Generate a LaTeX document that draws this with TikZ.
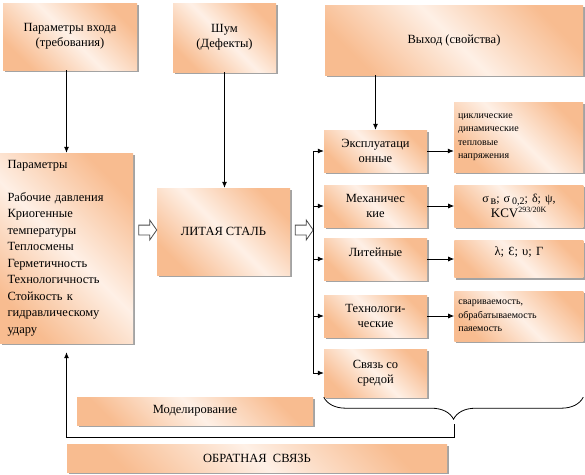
\documentclass[tikz,border=0pt]{standalone}
\usepackage{fontspec}
\setmainfont{Liberation Serif}
\newfontfamily\timesfont{Liberation Serif}
\usetikzlibrary{arrows.meta, positioning, shadows, shapes.arrows, decorations.pathreplacing}
\definecolor{boxorange}{RGB}{248,188,144}
\definecolor{boxlight}{RGB}{254,240,230}

\begin{document}
\begin{tikzpicture}[x=1pt, y=-1pt,
  box/.style={rectangle, top color=boxorange, bottom color=boxorange, middle color=boxlight, shading angle=-45, drop shadow={shadow xshift=2pt, shadow yshift=-2pt, fill=black!45, opacity=0.8}, align=center, font=\timesfont\fontsize{12.5}{15}\selectfont, inner sep=3pt},
  catbox/.style={box, minimum width=103, minimum height=42},
  propbox/.style={box, minimum width=129, text width=121, inner xsep=4pt},
  small/.style={font=\timesfont\fontsize{10}{13.5}\selectfont, align=left},
  arr/.style={-{Latex[length=6pt, width=5pt]}, line width=0.8pt},
  conn/.style={line width=0.8pt},
  hollow/.style={single arrow, draw=black!70, line width=0.8pt, fill=white, minimum height=18pt, inner xsep=0pt, inner ysep=4.5pt, single arrow head extend=5pt, single arrow tip angle=110},
  node distance=27pt]
\useasboundingbox (0,0) rectangle (585,474);

% inputs and output
\node[box, minimum width=134, minimum height=67] (inp) at (70,36.5) {Параметры входа\\(требования)};
\node[box, minimum width=103, minimum height=69] (noise) at (224.5,37.5) {Шум\\(Дефекты)};
\node[box, minimum width=258, minimum height=70] (outp) at (454,40) {Выход (свойства)};

\node[box, minimum width=133, minimum height=190, text width=118, inner xsep=7.5pt, align=left, font=\timesfont\fontsize{12.5}{16.5}\selectfont] (par) at (66.5,248) {Параметры\\[16.5pt]Рабочие давления\\Криогенные\\температуры\\Теплосмены\\Герметичность\\Технологичность\\Стойкость к\\гидравлическому\\удару};
\node[box, minimum width=133, minimum height=87] (steel) at (223.5,231.5) {ЛИТАЯ СТАЛЬ};

\node[hollow] (oa1) at (146,230) {};
\node[hollow] (oa2) at (302.5,230) {};

% property groups
\node[catbox] (expl) at (375.5,151) {Эксплуатаци\\онные};
\node[catbox] (mech) at (375.5,206) {Механичес\\кие};
\node[catbox] (cast) at (375.5,259) {\raisebox{7pt}[\height][\depth]{Литейные}};
\node[catbox] (tech) at (375.5,316) {Технологи-\\ческие};
\node[catbox, minimum height=48] (env) at (375.5,373) {Связь со\\средой};

\node[propbox, small, minimum height=70] (stress) at (518.5,137) {циклические\\динамические\\тепловые\\напряжения};
\node[propbox, minimum height=42, font=\timesfont\fontsize{12}{13}\selectfont, right=of mech] (mechp) {σ\,\raisebox{-2pt}{в}; σ\,\raisebox{-2pt}{\fontsize{10}{10}\selectfont 0,2}; δ; ψ,\\{\fontsize{13}{13}\selectfont KCV}\textsuperscript{293/20K}};
\node[propbox, minimum height=37, right=of cast] (castp) {\raisebox{7pt}[\height][\depth]{λ; Ɛ; υ; Γ}};
\node[propbox, small, minimum height=50, right=of tech] (techp) {свариваемость,\\обрабатываемость\\паяемость};

\node[box, minimum width=236, minimum height=28] (model) at (195,411) {Моделирование};
\node[box, minimum width=380, minimum height=28] (fb) at (257,458) {ОБРАТНАЯ\ \ СВЯЗЬ};

% connectors
\draw[arr] (par.north |- inp.south) -- (par.north);
\draw[arr] (noise.south) -- (noise.south |- steel.north);
\draw[arr] (expl.north |- outp.south) -- (expl.north);

\coordinate (bus) at (313,0);
\draw[conn] (bus |- expl) -- (bus |- env);
\foreach \n in {expl, mech, cast, tech, env}
  \draw[arr] (bus |- \n) -- (\n.west);

\draw[arr] (expl.east) -- (expl.east -| stress.west);
\draw[arr] (mech) -- (mechp);
\draw[arr] (cast.east) -- (cast.east -| castp.west);
\draw[arr] (tech.east) -- (tech.east -| techp.west);

% brace and feedback
\coordinate (brl) at (env.south west);
\coordinate (brr) at (env.south west -| stress.east);
\draw[conn, decorate, decoration={brace, mirror, amplitude=22pt}] (brl) -- (brr);
\coordinate (tip) at (454,420);
\draw[arr, shorten <=4pt, shorten >=9pt] (tip) -- ++(0,17) -| (par.south);
\end{tikzpicture}
\end{document}
